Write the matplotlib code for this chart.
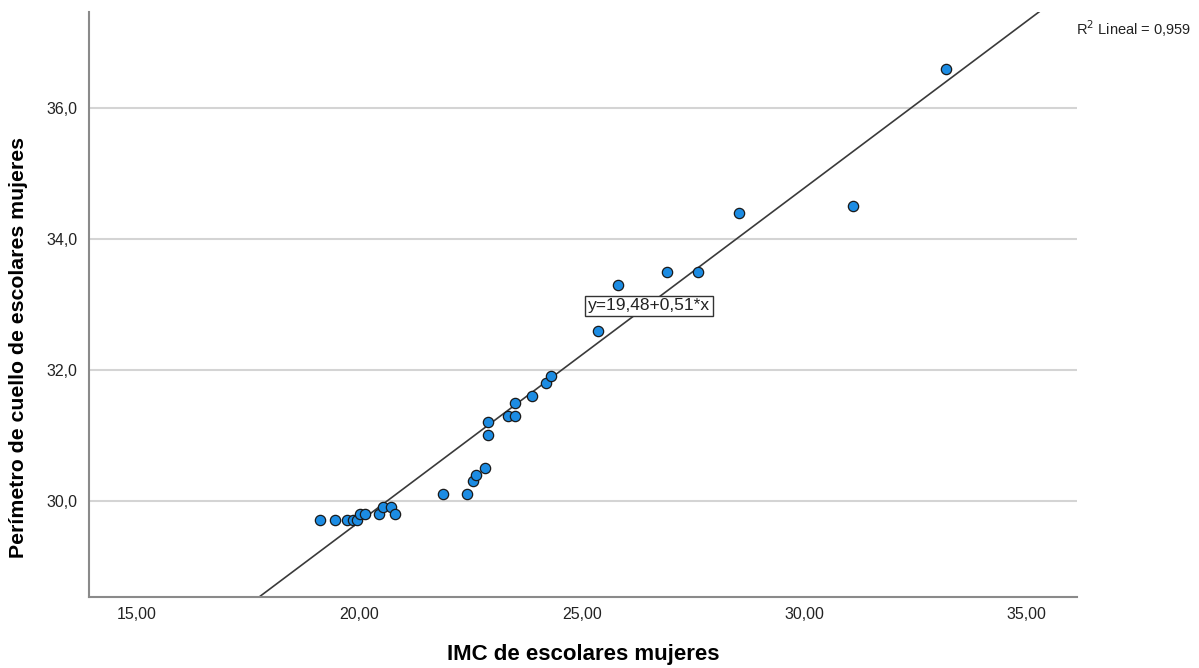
import numpy as np
import matplotlib.pyplot as plt
from matplotlib.ticker import FuncFormatter

# IMC vs perimetro de cuello (escolares mujeres)
imc = [19.12, 19.46, 19.73, 19.86, 19.95, 20.02, 20.13, 20.45, 20.52, 20.70, 20.81,
       21.89, 22.41, 22.55, 22.61, 22.82, 22.88, 22.90, 23.33, 23.49, 23.50,
       23.87, 24.19, 24.30, 25.36, 25.81, 26.91, 27.61, 28.54, 31.10, 33.18]
cuello = [29.7, 29.7, 29.7, 29.7, 29.7, 29.8, 29.8, 29.8, 29.9, 29.9, 29.8,
          30.1, 30.1, 30.3, 30.4, 30.5, 31.0, 31.2, 31.3, 31.3, 31.5,
          31.6, 31.8, 31.9, 32.6, 33.3, 33.5, 33.5, 34.4, 34.5, 36.6]
intercepto = 19.48
pendiente = 0.51
r2 = 0.959
xticks = [15, 20, 25, 30, 35]
yticks = [30, 32, 34, 36]

plt.rcParams['font.family'] = ['Liberation Sans', 'DejaVu Sans']

fig = plt.figure(figsize=(11.99, 6.68), dpi=100)
ax = fig.add_axes([0.0742, 0.1063, 0.824, 0.8757])

xmin, xmax = 13.92, 36.13
ymin, ymax = 28.53, 37.47
ax.set_xlim(xmin, xmax)
ax.set_ylim(ymin, ymax)

# grid lines only horizontal
for yt in yticks:
    ax.axhline(yt, color="#d4d4d4", lw=1.5, zorder=0)

# fit line
xl = np.array([xmin, xmax])
ax.plot(xl, intercepto + pendiente * xl, color="#3a3a3a", lw=1.2, zorder=2)

ax.scatter(imc, cuello, s=55, color="#1c8ce3", edgecolor="#1a1a1a", linewidth=0.9, zorder=3)

ax.text(26.51, 32.98, "y=19,48+0,51*x", fontsize=12.5, ha="center", va="center",
        color="#222222", zorder=4,
        bbox=dict(boxstyle="square,pad=0.15", fc="white", ec="#333333", lw=1))

fig.text(0.897, 0.957, "R$^2$ Lineal = " + f"{r2:.3f}".replace(".", ","),
         fontsize=10.5, ha="left", va="center", color="#222222")

ax.set_xticks(xticks)
ax.set_yticks(yticks)
ax.xaxis.set_major_formatter(FuncFormatter(lambda v, p: f"{v:.2f}".replace(".", ",")))
ax.yaxis.set_major_formatter(FuncFormatter(lambda v, p: f"{v:.1f}".replace(".", ",")))
ax.tick_params(length=0, labelsize=11.5, colors="#222222")
ax.tick_params(axis="y", pad=8.5)
ax.tick_params(axis="x", pad=7)

for s in ["top", "right"]:
    ax.spines[s].set_visible(False)
for s in ["left", "bottom"]:
    ax.spines[s].set_color("#8a8a8a")
    ax.spines[s].set_linewidth(1.5)

ax.set_xlabel("IMC de escolares mujeres", fontsize=16, weight="bold", labelpad=16)
ax.set_ylabel("Perímetro de cuello de escolares mujeres", fontsize=15.3, weight="bold")
ax.yaxis.set_label_coords(-0.062, 0.426)

fig.savefig("out.png", dpi=100)
